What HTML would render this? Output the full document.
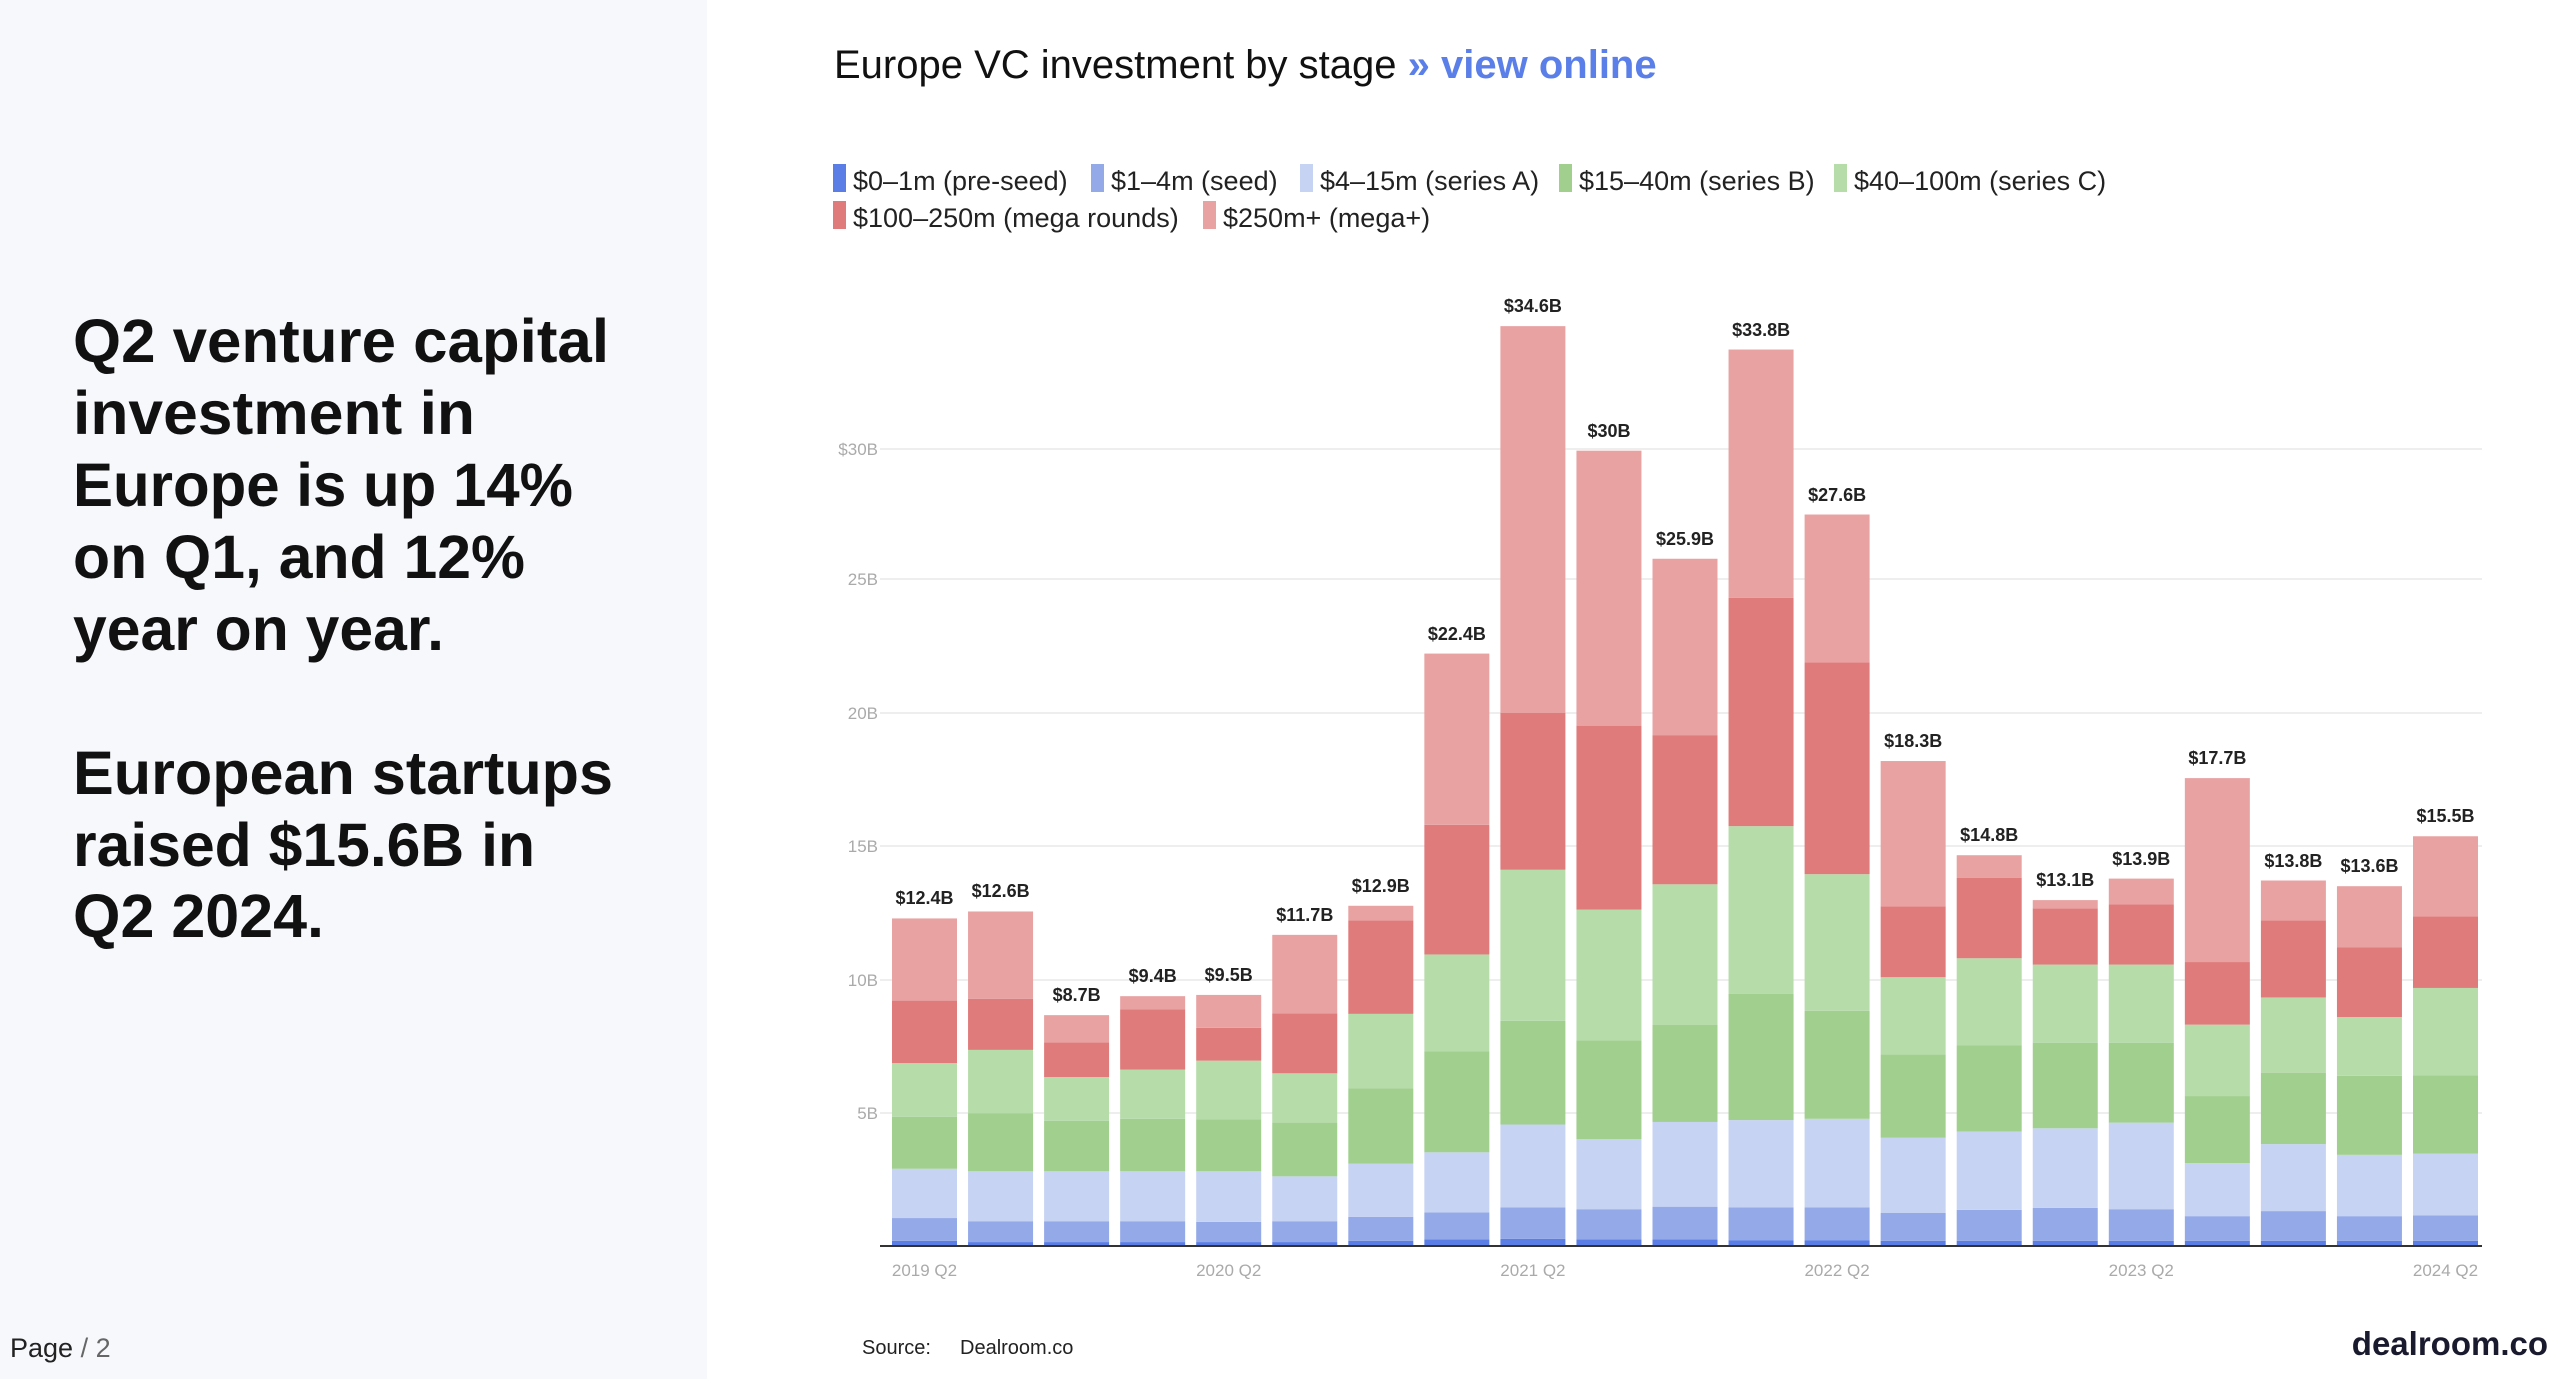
<!DOCTYPE html>
<html><head><meta charset="utf-8"><style>
html,body{margin:0;padding:0;background:#fff}
svg{display:block}
.p{fill:#5a7ee6}.s{fill:#93a9e8}.a{fill:#c7d3f3}.b{fill:#a1cf8e}.c{fill:#b6dcaa}.m{fill:#e07b7b}.t{fill:#e8a2a2}
.lt{font-family:"Liberation Sans",sans-serif;font-weight:bold;font-size:61px;fill:#111}
.bl{font-family:"Liberation Sans",sans-serif;font-weight:bold;font-size:18px;fill:#222;text-anchor:middle}
.ax{font-family:"Liberation Sans",sans-serif;font-size:17px;fill:#aaa}
.lg{font-family:"Liberation Sans",sans-serif;font-size:27px;fill:#222}
</style></head><body>
<svg width="2560" height="1379" viewBox="0 0 2560 1379" xmlns="http://www.w3.org/2000/svg">
<rect x="0" y="0" width="707" height="1379" fill="#f7f8fc"/>
<text class="lt" x="73" y="362" textLength="536" lengthAdjust="spacingAndGlyphs">Q2 venture capital</text>
<text class="lt" x="73" y="434" textLength="402" lengthAdjust="spacingAndGlyphs">investment in</text>
<text class="lt" x="73" y="506" textLength="500" lengthAdjust="spacingAndGlyphs">Europe is up 14%</text>
<text class="lt" x="73" y="578" textLength="452" lengthAdjust="spacingAndGlyphs">on Q1, and 12%</text>
<text class="lt" x="73" y="650" textLength="371" lengthAdjust="spacingAndGlyphs">year on year.</text>
<text class="lt" x="73" y="794" textLength="540" lengthAdjust="spacingAndGlyphs">European startups</text>
<text class="lt" x="73" y="866" textLength="462" lengthAdjust="spacingAndGlyphs">raised $15.6B in</text>
<text class="lt" x="73" y="937" textLength="251" lengthAdjust="spacingAndGlyphs">Q2 2024.</text>
<text x="10" y="1357" font-family="Liberation Sans,sans-serif" font-size="27" fill="#222">Page <tspan fill="#666">/ 2</tspan></text>

<text x="834" y="78" font-family="Liberation Sans,sans-serif" font-size="40" fill="#111">Europe VC investment by stage <tspan fill="#5b7fe8" font-weight="bold">»  view online</tspan></text>

<g class="lg">
<rect x="833" y="164" width="13" height="28" class="p"/><text x="853" y="190">$0–1m (pre-seed)</text>
<rect x="1091" y="164" width="13" height="28" class="s"/><text x="1111" y="190">$1–4m (seed)</text>
<rect x="1300" y="164" width="13" height="28" class="a"/><text x="1320" y="190">$4–15m (series A)</text>
<rect x="1559" y="164" width="13" height="28" class="b"/><text x="1579" y="190">$15–40m (series B)</text>
<rect x="1834" y="164" width="13" height="28" class="c"/><text x="1854" y="190">$40–100m (series C)</text>
<rect x="833" y="201" width="13" height="28" class="m"/><text x="853" y="227">$100–250m (mega rounds)</text>
<rect x="1203" y="201" width="13" height="28" class="t"/><text x="1223" y="227">$250m+ (mega+)</text>
</g>

<g stroke="#eee" stroke-width="2">
<line x1="880" y1="449" x2="2482" y2="449"/><line x1="880" y1="579" x2="2482" y2="579"/>
<line x1="880" y1="713" x2="2482" y2="713"/><line x1="880" y1="846" x2="2482" y2="846"/>
<line x1="880" y1="980" x2="2482" y2="980"/><line x1="880" y1="1113" x2="2482" y2="1113"/>
</g>
<g class="ax" text-anchor="end">
<text x="878" y="455">$30B</text><text x="878" y="585">25B</text><text x="878" y="719">20B</text>
<text x="878" y="852">15B</text><text x="878" y="986">10B</text><text x="878" y="1119">5B</text>
</g>

<g transform="translate(0,280) scale(1,0.63211)">
<g transform="translate(892,0)"><rect width="65" y="1520" height="8" class="p"/><rect width="65" y="1484" height="36" class="s"/><rect width="65" y="1406" height="78" class="a"/><rect width="65" y="1324" height="82" class="b"/><rect width="65" y="1239" height="85" class="c"/><rect width="65" y="1140" height="99" class="m"/><rect width="65" y="1010" height="130" class="t"/></g>
<g transform="translate(968.05,0)"><rect width="65" y="1522" height="6" class="p"/><rect width="65" y="1489" height="33" class="s"/><rect width="65" y="1410" height="79" class="a"/><rect width="65" y="1318" height="92" class="b"/><rect width="65" y="1218" height="100" class="c"/><rect width="65" y="1137" height="81" class="m"/><rect width="65" y="999" height="138" class="t"/></g>
<g transform="translate(1044.1,0)"><rect width="65" y="1522" height="6" class="p"/><rect width="65" y="1489" height="33" class="s"/><rect width="65" y="1410" height="79" class="a"/><rect width="65" y="1330" height="80" class="b"/><rect width="65" y="1261" height="69" class="c"/><rect width="65" y="1206" height="55" class="m"/><rect width="65" y="1163" height="43" class="t"/></g>
<g transform="translate(1120.15,0)"><rect width="65" y="1522" height="6" class="p"/><rect width="65" y="1489" height="33" class="s"/><rect width="65" y="1410" height="79" class="a"/><rect width="65" y="1327" height="83" class="b"/><rect width="65" y="1249" height="78" class="c"/><rect width="65" y="1154" height="95" class="m"/><rect width="65" y="1133" height="21" class="t"/></g>
<g transform="translate(1196.2,0)"><rect width="65" y="1522" height="6" class="p"/><rect width="65" y="1490" height="32" class="s"/><rect width="65" y="1410" height="80" class="a"/><rect width="65" y="1328" height="82" class="b"/><rect width="65" y="1235" height="93" class="c"/><rect width="65" y="1183" height="52" class="m"/><rect width="65" y="1131" height="52" class="t"/></g>
<g transform="translate(1272.25,0)"><rect width="65" y="1522" height="6" class="p"/><rect width="65" y="1489" height="33" class="s"/><rect width="65" y="1418" height="71" class="a"/><rect width="65" y="1333" height="85" class="b"/><rect width="65" y="1255" height="78" class="c"/><rect width="65" y="1160" height="95" class="m"/><rect width="65" y="1036" height="124" class="t"/></g>
<g transform="translate(1348.3,0)"><rect width="65" y="1520" height="8" class="p"/><rect width="65" y="1482" height="38" class="s"/><rect width="65" y="1398" height="84" class="a"/><rect width="65" y="1279" height="119" class="b"/><rect width="65" y="1161" height="118" class="c"/><rect width="65" y="1013" height="148" class="m"/><rect width="65" y="990" height="23" class="t"/></g>
<g transform="translate(1424.35,0)"><rect width="65" y="1518" height="10" class="p"/><rect width="65" y="1475" height="43" class="s"/><rect width="65" y="1380" height="95" class="a"/><rect width="65" y="1220" height="160" class="b"/><rect width="65" y="1067" height="153" class="c"/><rect width="65" y="862" height="205" class="m"/><rect width="65" y="591" height="271" class="t"/></g>
<g transform="translate(1500.4,0)"><rect width="65" y="1517" height="11" class="p"/><rect width="65" y="1467" height="50" class="s"/><rect width="65" y="1336" height="131" class="a"/><rect width="65" y="1172" height="164" class="b"/><rect width="65" y="933" height="239" class="c"/><rect width="65" y="685" height="248" class="m"/><rect width="65" y="73" height="612" class="t"/></g>
<g transform="translate(1576.45,0)"><rect width="65" y="1518" height="10" class="p"/><rect width="65" y="1470" height="48" class="s"/><rect width="65" y="1359" height="111" class="a"/><rect width="65" y="1203" height="156" class="b"/><rect width="65" y="996" height="207" class="c"/><rect width="65" y="705" height="291" class="m"/><rect width="65" y="270" height="435" class="t"/></g>
<g transform="translate(1652.5,0)"><rect width="65" y="1518" height="10" class="p"/><rect width="65" y="1466" height="52" class="s"/><rect width="65" y="1332" height="134" class="a"/><rect width="65" y="1178" height="154" class="b"/><rect width="65" y="956" height="222" class="c"/><rect width="65" y="720" height="236" class="m"/><rect width="65" y="441" height="279" class="t"/></g>
<g transform="translate(1728.55,0)"><rect width="65" y="1519" height="9" class="p"/><rect width="65" y="1467" height="52" class="s"/><rect width="65" y="1329" height="138" class="a"/><rect width="65" y="1129" height="200" class="b"/><rect width="65" y="864" height="265" class="c"/><rect width="65" y="503" height="361" class="m"/><rect width="65" y="110" height="393" class="t"/></g>
<g transform="translate(1804.6,0)"><rect width="65" y="1519" height="9" class="p"/><rect width="65" y="1467" height="52" class="s"/><rect width="65" y="1327" height="140" class="a"/><rect width="65" y="1156" height="171" class="b"/><rect width="65" y="940" height="216" class="c"/><rect width="65" y="605" height="335" class="m"/><rect width="65" y="371" height="234" class="t"/></g>
<g transform="translate(1880.65,0)"><rect width="65" y="1520" height="8" class="p"/><rect width="65" y="1476" height="44" class="s"/><rect width="65" y="1357" height="119" class="a"/><rect width="65" y="1225" height="132" class="b"/><rect width="65" y="1103" height="122" class="c"/><rect width="65" y="991" height="112" class="m"/><rect width="65" y="761" height="230" class="t"/></g>
<g transform="translate(1956.7,0)"><rect width="65" y="1520" height="8" class="p"/><rect width="65" y="1471" height="49" class="s"/><rect width="65" y="1347" height="124" class="a"/><rect width="65" y="1211" height="136" class="b"/><rect width="65" y="1073" height="138" class="c"/><rect width="65" y="946" height="127" class="m"/><rect width="65" y="910" height="36" class="t"/></g>
<g transform="translate(2032.75,0)"><rect width="65" y="1520" height="8" class="p"/><rect width="65" y="1468" height="52" class="s"/><rect width="65" y="1342" height="126" class="a"/><rect width="65" y="1207" height="135" class="b"/><rect width="65" y="1083" height="124" class="c"/><rect width="65" y="994" height="89" class="m"/><rect width="65" y="981" height="13" class="t"/></g>
<g transform="translate(2108.8,0)"><rect width="65" y="1520" height="8" class="p"/><rect width="65" y="1470" height="50" class="s"/><rect width="65" y="1333" height="137" class="a"/><rect width="65" y="1207" height="126" class="b"/><rect width="65" y="1083" height="124" class="c"/><rect width="65" y="988" height="95" class="m"/><rect width="65" y="947" height="41" class="t"/></g>
<g transform="translate(2184.85,0)"><rect width="65" y="1520" height="8" class="p"/><rect width="65" y="1481" height="39" class="s"/><rect width="65" y="1397" height="84" class="a"/><rect width="65" y="1291" height="106" class="b"/><rect width="65" y="1178" height="113" class="c"/><rect width="65" y="1079" height="99" class="m"/><rect width="65" y="788" height="291" class="t"/></g>
<g transform="translate(2260.9,0)"><rect width="65" y="1520" height="8" class="p"/><rect width="65" y="1473" height="47" class="s"/><rect width="65" y="1367" height="106" class="a"/><rect width="65" y="1254" height="113" class="b"/><rect width="65" y="1135" height="119" class="c"/><rect width="65" y="1013" height="122" class="m"/><rect width="65" y="950" height="63" class="t"/></g>
<g transform="translate(2336.95,0)"><rect width="65" y="1520" height="8" class="p"/><rect width="65" y="1481" height="39" class="s"/><rect width="65" y="1384" height="97" class="a"/><rect width="65" y="1259" height="125" class="b"/><rect width="65" y="1166" height="93" class="c"/><rect width="65" y="1056" height="110" class="m"/><rect width="65" y="959" height="97" class="t"/></g>
<g transform="translate(2413,0)"><rect width="65" y="1520" height="8" class="p"/><rect width="65" y="1480" height="40" class="s"/><rect width="65" y="1382" height="98" class="a"/><rect width="65" y="1258" height="124" class="b"/><rect width="65" y="1120" height="138" class="c"/><rect width="65" y="1007" height="113" class="m"/><rect width="65" y="880" height="127" class="t"/></g>
</g>
<line x1="880" y1="1246" x2="2482" y2="1246" stroke="#333" stroke-width="2"/>

<g class="bl">
<text x="924.5" y="904">$12.4B</text><text x="1000.6" y="897">$12.6B</text><text x="1076.6" y="1001">$8.7B</text>
<text x="1152.7" y="982">$9.4B</text><text x="1228.7" y="981">$9.5B</text><text x="1304.8" y="921">$11.7B</text>
<text x="1380.8" y="892">$12.9B</text><text x="1456.9" y="640">$22.4B</text><text x="1532.9" y="312">$34.6B</text>
<text x="1609" y="437">$30B</text><text x="1685" y="545">$25.9B</text><text x="1761.1" y="336">$33.8B</text>
<text x="1837.1" y="501">$27.6B</text><text x="1913.2" y="747">$18.3B</text><text x="1989.2" y="841">$14.8B</text>
<text x="2065.3" y="886">$13.1B</text><text x="2141.3" y="865">$13.9B</text><text x="2217.4" y="764">$17.7B</text>
<text x="2293.4" y="867">$13.8B</text><text x="2369.5" y="872">$13.6B</text><text x="2445.5" y="822">$15.5B</text>
</g>
<g class="ax" text-anchor="middle" font-size="18">
<text x="924.5" y="1276">2019 Q2</text><text x="1228.7" y="1276">2020 Q2</text><text x="1532.9" y="1276">2021 Q2</text>
<text x="1837.1" y="1276">2022 Q2</text><text x="2141.3" y="1276">2023 Q2</text><text x="2445.5" y="1276">2024 Q2</text>
</g>
<text x="862" y="1354" font-family="Liberation Sans,sans-serif" font-size="20" fill="#222">Source:</text>
<text x="960" y="1354" font-family="Liberation Sans,sans-serif" font-size="20" fill="#222">Dealroom.co</text>
<text x="2548" y="1355" text-anchor="end" font-family="Liberation Sans,sans-serif" font-weight="bold" font-size="33" fill="#1a1a2e">dealroom.co</text>
</svg>
</body></html>
